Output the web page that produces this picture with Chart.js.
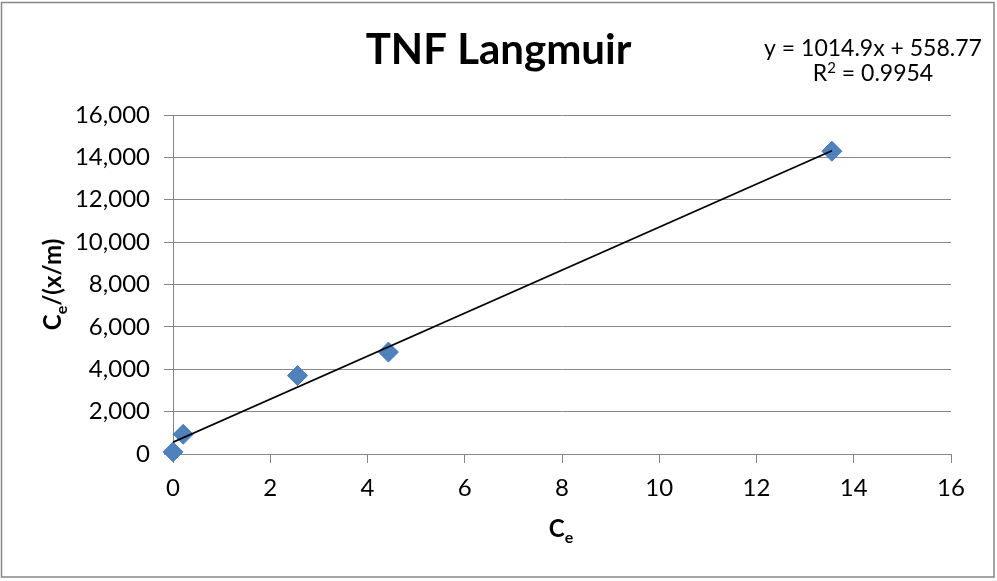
<!DOCTYPE html>
<html>
<head>
<meta charset="utf-8">
<title>TNF Langmuir</title>
<script src="https://cdn.jsdelivr.net/npm/chart.js@4.4.1/dist/chart.umd.min.js"></script>
<style>
  html, body { margin: 0; padding: 0; background: #ffffff; }
  #wrap { width: 997px; height: 581px; }
</style>
</head>
<body>
<div id="wrap"><canvas id="chart" width="997" height="581"></canvas></div>
<script>
// Langmuir isotherm data: Ce against Ce/(x/m)
const ceValues = [0.0, 0.21, 2.56, 4.43, 13.55];
const ratioValues = [100, 930, 3700, 4810, 14290];

// Linear fit reported on the chart
const fitSlope = 1014.9;
const fitIntercept = 558.77;
const fitR2 = 0.9954;

const chartTitle = 'TNF Langmuir';
const xTicks = [0, 2, 4, 6, 8, 10, 12, 14, 16];
const yTicks = [0, 2000, 4000, 6000, 8000, 10000, 12000, 14000, 16000];

const points = ceValues.map((x, i) => ({ x: x, y: ratioValues[i] }));
const xFitEnd = Math.max(...ceValues);
const fitLine = [0, xFitEnd].map(x => ({ x: x, y: fitSlope * x + fitIntercept }));

const gridGray = '#878787';
const textColor = '#000000';
const baseFont = 'Lato, "Open Sans", sans-serif';

// Draws main text + lowered/raised small text + remaining text, centred on the local origin
function drawScripted(ctx, main, small, rest, size, weight, shift) {
  const mainFont = weight + ' ' + size + 'px ' + baseFont;
  const smallFont = weight + ' ' + Math.round(size * 0.66) + 'px ' + baseFont;
  ctx.font = mainFont;
  const wMain = ctx.measureText(main).width;
  const wRest = ctx.measureText(rest).width;
  ctx.font = smallFont;
  const wSmall = ctx.measureText(small).width;
  const total = wMain + wSmall + wRest;
  let x = -total / 2;
  ctx.textAlign = 'left';
  ctx.textBaseline = 'alphabetic';
  ctx.font = mainFont;
  ctx.fillText(main, x, 0);
  x += wMain;
  ctx.font = smallFont;
  ctx.fillText(small, x, size * shift);
  x += wSmall;
  ctx.font = mainFont;
  ctx.fillText(rest, x, 0);
}

const decorations = {
  id: 'decorations',
  beforeDraw(chart) {
    const ctx = chart.ctx;
    ctx.save();
    ctx.fillStyle = '#ffffff';
    ctx.fillRect(0, 0, chart.width, chart.height);
    ctx.restore();
  },
  afterDraw(chart) {
    const ctx = chart.ctx;
    const area = chart.chartArea;
    ctx.save();
    ctx.fillStyle = textColor;

    // title
    ctx.font = 'bold 42px ' + baseFont;
    ctx.textAlign = 'center';
    ctx.textBaseline = 'alphabetic';
    ctx.fillText(chartTitle, chart.width / 2, 64);

    // fit equation
    ctx.font = '23px ' + baseFont;
    ctx.fillText('y = ' + fitSlope.toFixed(1) + 'x + ' + fitIntercept.toFixed(2), 873, 56);
    ctx.save();
    ctx.translate(873, 81);
    drawScripted(ctx, 'R', '2', ' = ' + fitR2.toFixed(4), 23, 'normal', -0.36);
    ctx.restore();

    // x axis title
    ctx.save();
    ctx.translate((area.left + area.right) / 2 - 1, 537);
    drawScripted(ctx, 'C', 'e', '', 24, 'bold', 0.26);
    ctx.restore();

    // y axis title
    ctx.save();
    ctx.translate(61, (area.top + area.bottom) / 2);
    ctx.rotate(-Math.PI / 2);
    drawScripted(ctx, 'C', 'e', '/(x/m)', 24, 'bold', 0.26);
    ctx.restore();

    // outer frame
    ctx.strokeStyle = gridGray;
    ctx.lineWidth = 1.5;
    ctx.strokeRect(1.5, 2.5, 992.5, 574.5);
    ctx.restore();
  }
};

new Chart(document.getElementById('chart'), {
  type: 'scatter',
  data: {
    datasets: [
      {
        label: 'Ce/(x/m)',
        data: points,
        pointStyle: 'rectRot',
        pointRadius: 10,
        pointHoverRadius: 10,
        backgroundColor: '#4F81BD',
        borderColor: '#4A7DBA',
        borderWidth: 1,
        clip: false,
        order: 2
      },
      {
        label: 'Linear fit',
        type: 'line',
        data: fitLine,
        borderColor: '#000000',
        borderWidth: 1.8,
        pointRadius: 0,
        fill: false,
        order: 1
      }
    ]
  },
  options: {
    responsive: false,
    animation: false,
    events: [],
    layout: { padding: { left: 0, right: 46, top: 115, bottom: 0 } },
    plugins: {
      legend: { display: false },
      title: { display: false },
      tooltip: { enabled: false }
    },
    scales: {
      x: {
        type: 'linear',
        min: 0,
        max: 16,
        afterBuildTicks(scale) { scale.ticks = xTicks.map(v => ({ value: v })); },
        afterFit(scale) { scale.height = 127; },
        grid: { drawOnChartArea: false, drawTicks: true, tickLength: 9, color: gridGray, tickColor: gridGray },
        border: { display: true, color: gridGray, width: 1 },
        ticks: { color: textColor, font: { family: baseFont, size: 24 }, padding: 11, maxRotation: 0 }
      },
      y: {
        type: 'linear',
        min: 0,
        max: 16000,
        afterBuildTicks(scale) { scale.ticks = yTicks.map(v => ({ value: v })); },
        afterFit(scale) { scale.width = 173; },
        grid: { drawTicks: true, tickLength: 9, color: gridGray, tickColor: gridGray, lineWidth: 1 },
        border: { display: true, color: gridGray, width: 1 },
        ticks: {
          color: textColor,
          font: { family: baseFont, size: 24 },
          padding: 14,
          callback: v => v.toLocaleString('en-US')
        }
      }
    }
  },
  plugins: [decorations]
});
</script>
</body>
</html>
